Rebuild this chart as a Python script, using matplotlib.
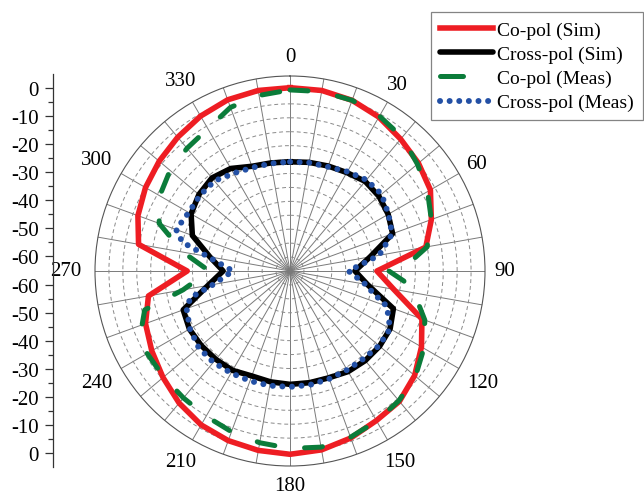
import numpy as np
import matplotlib
matplotlib.use("Agg")
import matplotlib.pyplot as plt
from matplotlib.lines import Line2D

plt.rcParams['font.family'] = ['Liberation Serif', 'DejaVu Serif']

# ---- radiation pattern data (angle in degrees, gain in dB) ----
ang_copol_sim = [0, 10, 20, 30, 40, 50, 60, 70, 80, 90, 100, 110, 120, 130, 140, 150,
                 160, 170, 180, 190, 200, 210, 220, 230, 240, 250, 260, 270, 280, 290,
                 300, 310, 320, 330, 340, 350, 360]
copol_sim = [0.8, 0.8, 0.2, -1.2, -3.2, -4.8, -6.8, -11.0, -15.5, -33.8, -27.2, -14.6,
             -10.5, -6.6, -3.9, -3.0, -1.2, 0.2, 0.8, 0.4, -0.2, -1.2, -3.1, -5.5, -7.7,
             -9.8, -13.4, -28.1, -9.8, -6.9, -5.1, -3.7, -2.3, -0.8, 0.4, 0.8, 0.8]

ang_xpol_sim = [0, 10, 20, 30, 40, 50, 60, 70, 80, 90, 100, 110, 120, 130, 140, 150,
                160, 170, 180, 190, 200, 210, 220, 230, 240, 250, 260, 270, 280, 290,
                300, 310, 320, 330, 340, 350, 360]
xpol_sim = [-25.8, -25.4, -24.9, -24.2, -23.0, -23.3, -24.3, -25.8, -35.8, -41.7, -36.7,
            -25.5, -23.5, -23.0, -23.0, -23.3, -24.2, -24.3, -24.3, -24.6, -24.9, -23.8,
            -23.6, -23.4, -23.3, -24.2, -35.1, -41.0, -35.8, -27.7, -24.0, -22.3, -21.4,
            -22.5, -25.0, -25.6, -25.8]

ang_copol_meas = [0, 10, 20, 30, 40, 50, 60, 70, 80, 85, 90, 95, 100, 105, 110, 120, 130,
                  140, 150, 160, 170, 180, 190, 200, 210, 220, 230, 240, 250, 255, 260,
                  270, 280, 290, 300, 310, 320, 330, 340, 350, 360]
copol_meas = [0.0, 0.4, 0.2, -0.8, -2.3, -5.3, -8.0, -11.0, -15.0, -21.0, -29.5, -24.0,
              -20.0, -17.0, -13.5, -9.5, -6.2, -4.2, -2.8, -1.5, -0.8, -1.3, -2.4, -3.6,
              -4.8, -5.5, -5.8, -5.8, -8.5, -11.0, -26.0, -36.0, -26.0, -15.0, -11.0,
              -8.8, -7.5, -6.0, -2.5, -1.0, 0.0]

ang_xpol_meas = [0, 10, 20, 30, 40, 50, 60, 70, 80, 90, 100, 105, 110, 120, 130, 140, 150,
                 160, 170, 180, 190, 200, 210, 220, 230, 240, 250, 255, 260, 270, 280,
                 285, 290, 300, 310, 320, 330, 340, 350, 360]
xpol_meas = [-25.8, -25.5, -25.2, -23.8, -22.3, -22.1, -24.2, -26.0, -32.5, -44.0, -37.5,
             -34.0, -28.0, -23.5, -23.3, -23.9, -24.0, -23.8, -23.5, -23.4, -23.2, -23.0,
             -22.7, -22.2, -22.2, -23.5, -25.5, -28.0, -37.0, -44.5, -35.0, -25.0, -21.5,
             -23.0, -22.8, -22.8, -24.5, -25.5, -25.8, -25.8]

series_labels = ['Co-pol (Sim)', 'Cross-pol (Sim)', 'Co-pol (Meas)', 'Cross-pol (Meas)']
angle_labels = list(range(0, 360, 30))
radial_ticks = [0, -10, -20, -30, -40, -50, -60]
r_min, r_max = -65, 5

RED = '#EE1D23'
BLACK = '#000000'
GREEN = '#0B7C3A'
BLUE = '#2350A5'

W, H = 644, 502
R_PX = 195.0  # polar axes radius in pixels
fig = plt.figure(figsize=(W / 100, H / 100), dpi=100)

# ---- polar axes ----
ax = fig.add_axes([95 / W, 35 / H, 2 * R_PX / W, 2 * R_PX / H], projection='polar')
ax.set_theta_zero_location('N')
ax.set_theta_direction(-1)
ax.set_ylim(r_min, r_max)
ax.set_thetagrids(np.arange(0, 360, 10), labels=[''] * 36)
rg = np.arange(-60, 1, 5)
ax.set_rgrids(rg, labels=[''] * len(rg))
ax.tick_params(axis='both', length=0)
ax.xaxis.grid(True, color='#7a7a7a', lw=0.7, ls='-')
ax.yaxis.grid(True, color='#8a8a8a', lw=0.7, ls=(0, (4, 3)))
ax.spines['polar'].set_color('#555555')
ax.spines['polar'].set_linewidth(0.8)

ax.plot(np.deg2rad(ang_copol_sim), copol_sim, color=RED, lw=4, zorder=3)
ax.plot(np.deg2rad(ang_xpol_sim), xpol_sim, color=BLACK, lw=4, zorder=3)
ax.plot(np.deg2rad(ang_copol_meas), copol_meas, color=GREEN, lw=3.6,
        ls=(0, (3.6, 6.0)), dash_capstyle='round', zorder=4)
ax.plot(np.deg2rad(ang_xpol_meas), xpol_meas, color=BLUE, lw=4.3,
        ls=(0, (0.01, 1.6)), dash_capstyle='round', zorder=4)

# angle labels around the rim (wider labels sit a little further out at the sides)
px_per_db = R_PX / (r_max - r_min)
for a in angle_labels:
    d = 215 + abs(np.sin(np.deg2rad(a))) * (len(str(a)) - 2) * 9
    ax.text(np.deg2rad(a), r_min + d / px_per_db, str(a), ha='center', va='center',
            fontsize=15, clip_on=False)

# ---- radial scale on the left ----
axl = fig.add_axes([53 / W, 34 / H, 0.01, 393 / H])
span = r_max - r_min
axl.set_ylim(-span, span)
major = [t - r_min for t in radial_ticks] + [-(t - r_min) for t in radial_ticks]
major_lab = [str(t) for t in radial_ticks] * 2
minor_vals = np.arange(-55, 0, 10)
minor = [v - r_min for v in minor_vals] + [-(v - r_min) for v in minor_vals]
axl.set_yticks(major)
axl.set_yticklabels(major_lab, fontsize=15)
axl.set_yticks(minor, minor=True)
axl.set_xticks([])
for s in ['top', 'right', 'bottom']:
    axl.spines[s].set_visible(False)
axl.spines['left'].set_color('#333333')
axl.spines['left'].set_linewidth(0.9)
axl.tick_params(axis='y', which='major', direction='out', length=6, width=0.9,
                color='#333333', pad=4)
axl.tick_params(axis='y', which='minor', direction='out', length=3.5, width=0.9,
                color='#333333')
axl.patch.set_visible(False)

# ---- legend ----
handles = [
    Line2D([], [], color=RED, lw=4),
    Line2D([], [], color=BLACK, lw=4, solid_capstyle='round'),
    Line2D([], [], color=GREEN, lw=3.6, ls=(0, (4.6, 20)), dash_capstyle='round'),
    Line2D([], [], color=BLUE, lw=4.3, ls=(0, (0.01, 1.6)), dash_capstyle='round'),
]
leg = fig.legend(handles, series_labels, loc='upper left',
                 bbox_to_anchor=(431 / W, 1 - 13 / H), fontsize=14,
                 handlelength=2.73, handletextpad=0.2, labelspacing=0.34,
                 borderpad=0.46, borderaxespad=0, fancybox=False, frameon=True)
leg.get_frame().set_edgecolor('#666666')
leg.get_frame().set_linewidth(0.9)

fig.savefig('out.png', dpi=100)
